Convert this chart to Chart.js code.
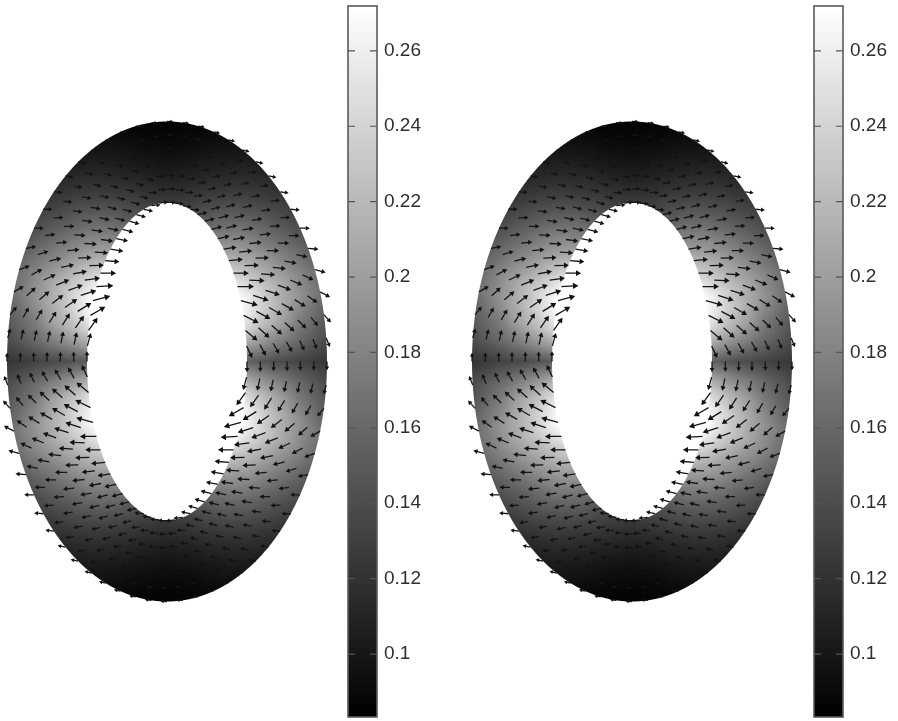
<!DOCTYPE html>
<html>
<head>
<meta charset="utf-8">
<title>Annulus field</title>
<script src="https://cdn.jsdelivr.net/npm/chart.js@4"></script>
<style>
  html, body { margin: 0; padding: 0; background: #fff; }
  #page { position: relative; width: 898px; height: 721px; overflow: hidden; }
  #page div { position: absolute; top: 0; height: 721px; }
</style>
</head>
<body>
<div id="page">
  <div style="left:0;width:340px"><canvas id="fieldLeft"></canvas></div>
  <div style="left:340px;width:100px"><canvas id="barLeft"></canvas></div>
  <div style="left:465px;width:340px"><canvas id="fieldRight"></canvas></div>
  <div style="left:806px;width:92px"><canvas id="barRight"></canvas></div>
</div>
<script>
// colorbar
const colorbarTicks = [0.1, 0.12, 0.14, 0.16, 0.18, 0.2, 0.22, 0.24, 0.26];
const colorMin = 0.0833;
const colorMax = 0.2719;

// semi axes of the two ellipses, data units
const outerAxes = [1.0, 1.5];
const innerAxes = [0.5, 0.994];

// speed at each mesh node: ring 0 is the hole edge, ring 6 the outer edge
// 64 nodes per ring, clockwise from the top
const speedRing0 = [.125,.127,.13,.135,.143,.152,.165,.18,.197,.215,.235,.255,.272,.262,.24,.20,.155,
  .20,.24,.265,.275,.262,.24,.218,.197,.18,.165,.152,.143,.135,.13,.127,
  .125,.127,.13,.135,.143,.152,.165,.18,.197,.215,.235,.255,.272,.262,.24,.20,
  .15,.20,.24,.265,.275,.262,.24,.218,.197,.18,.165,.152,.143,.135,.13,.127];
const speedRing1 = [.115,.117,.12,.125,.133,.142,.155,.168,.184,.20,.218,.235,.25,.245,.225,.19,.148,
  .19,.225,.247,.252,.238,.22,.20,.184,.168,.155,.142,.133,.125,.12,.117,
  .115,.117,.12,.125,.133,.142,.155,.168,.184,.20,.218,.235,.25,.245,.225,.19,
  .145,.19,.225,.247,.252,.238,.22,.20,.184,.168,.155,.142,.133,.125,.12,.117];
const speedRing2 = [.105,.107,.11,.115,.122,.13,.142,.155,.17,.185,.20,.215,.23,.228,.212,.18,.14,
  .18,.212,.228,.232,.217,.20,.185,.17,.155,.142,.13,.122,.115,.11,.107,
  .105,.107,.11,.115,.122,.13,.142,.155,.17,.185,.20,.215,.23,.228,.212,.18,
  .138,.18,.212,.228,.232,.217,.20,.185,.17,.155,.142,.13,.122,.115,.11,.107];
const speedRing3 = [.098,.10,.102,.107,.113,.12,.13,.142,.155,.168,.183,.198,.213,.212,.198,.17,.138,
  .17,.198,.212,.214,.198,.183,.168,.155,.142,.13,.12,.113,.107,.102,.10,
  .098,.10,.102,.107,.113,.12,.13,.142,.155,.168,.183,.198,.213,.212,.198,.17,
  .136,.17,.198,.212,.214,.198,.183,.168,.155,.142,.13,.12,.113,.107,.102,.10];
const speedRing4 = [.092,.093,.095,.10,.105,.112,.12,.13,.142,.153,.167,.182,.197,.197,.178,.16,.133,
  .16,.178,.197,.197,.182,.167,.153,.142,.13,.12,.112,.105,.10,.095,.093,
  .092,.093,.095,.10,.105,.112,.12,.13,.142,.153,.167,.182,.197,.197,.178,.16,
  .131,.16,.178,.197,.197,.182,.167,.153,.142,.13,.12,.112,.105,.10,.095,.093];
const speedRing5 = [.088,.089,.09,.094,.099,.105,.112,.12,.13,.141,.153,.167,.18,.182,.165,.15,.128,
  .15,.165,.182,.18,.167,.153,.141,.13,.12,.112,.105,.099,.094,.09,.089,
  .088,.089,.09,.094,.099,.105,.112,.12,.13,.141,.153,.167,.18,.182,.165,.15,
  .126,.15,.165,.182,.18,.167,.153,.141,.13,.12,.112,.105,.099,.094,.09,.089];
const speedRing6 = [.085,.086,.087,.09,.094,.098,.104,.111,.12,.13,.14,.152,.165,.167,.152,.14,.124,
  .14,.152,.167,.165,.152,.14,.13,.12,.111,.104,.098,.094,.09,.087,.086,
  .085,.086,.087,.09,.094,.098,.104,.111,.12,.13,.14,.152,.165,.167,.152,.14,
  .122,.14,.152,.167,.165,.152,.14,.13,.12,.111,.104,.098,.094,.09,.087,.086];

// arrow direction at each node, degrees, 0 = right, 90 = up
const dirRing0 = [0,-5,-10,-5,12,15,14,12,8,5,0,0,-15,-27,-40,-65,-90,
  255,235,210,195,183,180,175,170,168,165,165,165,168,185,188,
  180,175,170,175,192,195,194,192,188,185,180,180,165,153,140,115,
  90,75,55,30,15,3,0,-5,-10,-12,-15,-15,-15,-12,5,8];
const dirRing1 = [0,-3,-3,8,12,14,15,14,10,6,2,-2,-18,-28,-42,-62,-90,
  258,235,212,198,188,182,176,172,168,165,165,165,166,175,183,
  180,177,177,188,192,194,195,194,190,186,182,178,162,152,138,118,
  90,78,55,32,18,8,2,-4,-8,-12,-15,-15,-15,-14,-5,3];
const dirRing2 = [0,0,3,8,12,14,15,14,10,6,2,-4,-18,-30,-42,-60,-90,
  258,238,215,200,190,183,177,172,168,165,165,165,166,172,178,
  180,180,183,188,192,194,195,194,190,186,182,176,162,150,138,120,
  90,78,58,35,20,10,3,-3,-8,-12,-15,-15,-15,-14,-8,-2];
const dirRing3 = [-2,0,5,8,10,12,14,12,10,6,0,-6,-20,-30,-42,-60,-90,
  258,238,218,202,192,185,177,172,170,166,165,165,168,170,175,
  178,180,185,188,190,192,194,192,190,186,180,174,160,150,138,120,
  90,78,58,38,22,12,5,-3,-8,-10,-14,-15,-15,-12,-10,-5];
const dirRing4 = [-2,0,2,5,8,10,12,10,8,4,0,-10,-22,-32,-45,-65,-90,
  258,240,220,205,194,186,180,174,170,168,166,166,168,170,175,
  178,180,182,185,188,190,192,190,188,184,180,170,158,148,135,115,
  90,78,60,40,25,14,6,0,-6,-10,-12,-14,-14,-12,-10,-5];
const dirRing5 = [-3,-2,0,2,5,8,10,8,8,3,0,-12,-25,-35,-50,-68,-90,
  256,240,222,208,198,188,182,176,172,170,168,168,168,170,175,
  177,178,180,182,185,188,190,188,188,183,180,168,155,145,130,112,
  90,76,60,42,28,18,8,2,-4,-8,-10,-12,-12,-12,-10,-5];
const dirRing6 = [-3,-8,-10,-12,-15,-15,-12,-10,-8,-5,0,-5,-15,-28,-48,-68,-90,
  255,230,210,200,190,180,180,175,170,170,170,172,174,175,177,
  177,172,170,168,165,165,168,170,172,175,180,175,165,152,132,112,
  90,75,50,30,20,10,0,0,-5,-10,-10,-10,-8,-6,-5,-3];

const speedRings = [speedRing0, speedRing1, speedRing2, speedRing3, speedRing4, speedRing5, speedRing6];
const dirRings = [dirRing0, dirRing1, dirRing2, dirRing3, dirRing4, dirRing5, dirRing6];
const nodeCount = 64;
const ringCount = 7;

const arrowScale = 0.375; // data units per unit of speed

// mesh position, r = ring, k = node
function meshPoint(r, k) {
  const t = r / (ringCount - 1);
  const a = innerAxes[0] + t * (outerAxes[0] - innerAxes[0]);
  const b = innerAxes[1] + t * (outerAxes[1] - innerAxes[1]);
  const th = k / nodeCount * 2 * Math.PI;
  return { x: a * Math.sin(th), y: b * Math.cos(th) };
}

// which ellipse of the mesh family goes through (x, y), 0 = hole edge, 1 = outer edge
function ringFraction(x, y) {
  let lo = -0.2, hi = 1.2;
  for (let i = 0; i < 18; i++) {
    const t = (lo + hi) / 2;
    const a = innerAxes[0] + t * (outerAxes[0] - innerAxes[0]);
    const b = innerAxes[1] + t * (outerAxes[1] - innerAxes[1]);
    if ((x * x) / (a * a) + (y * y) / (b * b) > 1) lo = t; else hi = t;
  }
  return (lo + hi) / 2;
}

// smooth shading of the annulus, pixels looked up through the chart's own scales
const shadingPlugin = {
  id: 'shading',
  beforeDatasetsDraw(chart) {
    const { ctx, scales, width, height } = chart;
    const img = ctx.createImageData(width, height);
    const edge = 80; // pixels across the annulus, for the soft edge
    for (let py = 0; py < height; py++) {
      const y = scales.y.getValueForPixel(py + 0.5);
      for (let px = 0; px < width; px++) {
        const x = scales.x.getValueForPixel(px + 0.5);
        const t = ringFraction(x, y);
        if (t < -0.02 || t > 1.02) continue;
        const a = innerAxes[0] + t * (outerAxes[0] - innerAxes[0]);
        const b = innerAxes[1] + t * (outerAxes[1] - innerAxes[1]);
        let th = Math.atan2(x / a, y / b);
        if (th < 0) th += 2 * Math.PI;
        const kf = th / (2 * Math.PI) * nodeCount;
        const k0 = Math.floor(kf) % nodeCount, k1 = (k0 + 1) % nodeCount, w = kf - Math.floor(kf);
        const rf = Math.max(0, Math.min(ringCount - 1.001, t * (ringCount - 1)));
        const r0 = Math.floor(rf), u = rf - r0;
        const v = (1 - u) * ((1 - w) * speedRings[r0][k0] + w * speedRings[r0][k1])
          + u * ((1 - w) * speedRings[r0 + 1][k0] + w * speedRings[r0 + 1][k1]);
        const g = Math.round(Math.max(0, Math.min(1, (v - colorMin) / (colorMax - colorMin))) * 255);
        const cover = Math.max(0, Math.min(1, Math.min((1 - t) * edge + 0.5, t * edge + 0.5)));
        const i = (py * width + px) * 4;
        img.data[i] = img.data[i + 1] = img.data[i + 2] = g;
        img.data[i + 3] = Math.round(cover * 255);
      }
    }
    const off = document.createElement('canvas');
    off.width = width;
    off.height = height;
    off.getContext('2d').putImageData(img, 0, 0);
    ctx.drawImage(off, 0, 0);
  }
};

function makeField(id) {
  const shafts = [], heads = [], headSpeed = [], headDir = [];
  for (let r = 0; r < ringCount; r++) {
    for (let k = 0; k < nodeCount; k++) {
      const p = meshPoint(r, k);
      const v = speedRings[r][k];
      const d = dirRings[r][k] * Math.PI / 180;
      const dx = v * arrowScale * Math.cos(d), dy = v * arrowScale * Math.sin(d);
      shafts.push(p, { x: p.x + dx * 0.8, y: p.y + dy * 0.8 }, { x: NaN, y: NaN });
      heads.push({ x: p.x + dx * 0.85, y: p.y + dy * 0.85 });
      headSpeed.push(v);
      headDir.push(dirRings[r][k]);
    }
  }
  new Chart(document.getElementById(id), {
    type: 'scatter',
    data: {
      datasets: [
        { data: shafts, showLine: true, spanGaps: false, borderColor: '#151515', borderWidth: 1.3, pointRadius: 0 },
        {
          data: heads,
          showLine: false,
          pointStyle: 'triangle',
          pointBackgroundColor: '#111',
          pointBorderWidth: 0,
          pointRadius: c => 1.5 + headSpeed[c.dataIndex] * 8,
          pointRotation: c => 90 - headDir[c.dataIndex]
        }
      ]
    },
    options: {
      responsive: false,
      animation: false,
      events: [],
      layout: { padding: 0, autoPadding: false },
      plugins: { legend: { display: false }, tooltip: { enabled: false } },
      scales: {
        x: { type: 'linear', display: false, min: -167 / 160, max: 173 / 160 },
        y: { type: 'linear', display: false, min: -359.5 / 160, max: 361.5 / 160 }
      }
    },
    plugins: [shadingPlugin]
  });
}

// frame and inward tick marks of the colorbar
const barFramePlugin = {
  id: 'barFrame',
  afterDatasetsDraw(chart) {
    const { ctx, chartArea: a, scales } = chart;
    ctx.save();
    ctx.strokeStyle = '#5a5a5a';
    ctx.lineWidth = 1.6;
    ctx.strokeRect(a.left, a.top, a.right - a.left, a.bottom - a.top);
    ctx.lineWidth = 1.2;
    ctx.strokeStyle = '#555';
    colorbarTicks.forEach(t => {
      const y = scales.y.getPixelForValue(t);
      ctx.beginPath();
      ctx.moveTo(a.left, y);
      ctx.lineTo(a.left + 7, y);
      ctx.moveTo(a.right - 7, y);
      ctx.lineTo(a.right, y);
      ctx.stroke();
    });
    ctx.restore();
  }
};

function makeBar(id, leftPad, totalWidth) {
  const canvas = document.getElementById(id);
  canvas.width = totalWidth;
  canvas.height = 721;
  new Chart(canvas, {
    type: 'bar',
    data: {
      labels: ['bar'],
      datasets: [{
        data: [[colorMin, colorMax]],
        barPercentage: 1,
        categoryPercentage: 1,
        borderWidth: 0,
        backgroundColor: c => {
          const a = c.chart.chartArea;
          if (!a) return '#888';
          const g = c.chart.ctx.createLinearGradient(0, a.bottom, 0, a.top);
          g.addColorStop(0, '#000');
          g.addColorStop(1, '#fff');
          return g;
        }
      }]
    },
    options: {
      responsive: false,
      animation: false,
      events: [],
      layout: { padding: { left: leftPad, top: 6, bottom: 4, right: 0 }, autoPadding: false },
      plugins: { legend: { display: false }, tooltip: { enabled: false } },
      scales: {
        x: { display: false },
        y: {
          position: 'right',
          min: colorMin,
          max: colorMax,
          afterBuildTicks: s => { s.ticks = colorbarTicks.map(value => ({ value })); },
          afterFit: s => {
            s.width = totalWidth - leftPad - 29;
            s.paddingTop = 0;
            s.paddingBottom = 0;
          },
          grid: { display: false, drawTicks: false },
          border: { display: false },
          ticks: {
            padding: 7,
            autoSkip: false,
            color: '#2e2e2e',
            font: { family: '"Liberation Sans", Arial, sans-serif', size: 19 },
            callback: v => String(+Number(v).toFixed(2))
          }
        }
      }
    },
    plugins: [barFramePlugin]
  });
}

document.getElementById('fieldLeft').width = 340;
document.getElementById('fieldLeft').height = 721;
document.getElementById('fieldRight').width = 340;
document.getElementById('fieldRight').height = 721;
makeField('fieldLeft');
makeField('fieldRight');
makeBar('barLeft', 8, 100);
makeBar('barRight', 8, 92);
</script>
</body>
</html>
